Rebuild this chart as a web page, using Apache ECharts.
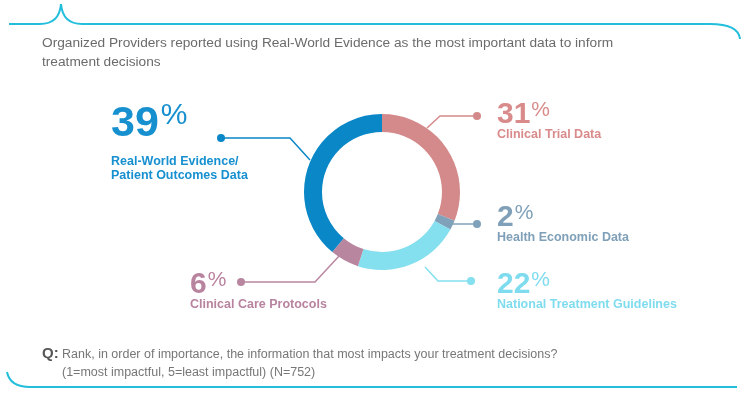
<!DOCTYPE html>
<html>
<head>
<meta charset="utf-8">
<script src="https://cdn.jsdelivr.net/npm/echarts@6/dist/echarts.min.js"></script>
<style>
html, body { margin: 0; padding: 0; background: #fff; }
#chart { width: 747px; height: 397px; }
</style>
</head>
<body>
<div id="chart"></div>
<script>
// data, clockwise from 12 o'clock
var names = ['Clinical Trial Data', 'Health Economic Data', 'National Treatment Guidelines', 'Clinical Care Protocols', 'Real-World Evidence/\nPatient Outcomes Data'];
var values = [31, 2, 22, 6, 39];
var colors = ['#d48a8a', '#7fa2ba', '#84dfee', '#b8869f', '#0a87c7'];
var textColors = ['#d98b8b', '#7fa0b8', '#7fdcee', '#b8839e', '#1790d0'];

// where each label sits, and its leader line (ring -> bend -> dot)
var labelPos = [
  { x: 497, y: 102, line: [[427, 128], [440, 116], [477, 116]] },
  { x: 497, y: 205, line: [[452, 224], [462, 224], [477, 224]] },
  { x: 497, y: 272, line: [[425, 267], [438, 281], [471, 281]] },
  { x: 190, y: 272, line: [[340, 255], [315, 282], [241, 282]] },
  { x: 111, y: 94, line: [[310, 160], [290, 138], [221, 138]] }
];

var chart = echarts.init(document.getElementById('chart'));

var pieData = [];
for (var i = 0; i < values.length; i++) {
  pieData.push({
    name: names[i],
    value: values[i],
    itemStyle: { color: colors[i] },
    label: { color: textColors[i] }
  });
}

var dots = [];
labelPos.forEach(function(p, i) {
  var end = p.line[2];
  dots.push({
    type: 'circle',
    shape: { cx: end[0], cy: end[1], r: 4 },
    style: { fill: colors[i] },
    z: 10
  });
});

var frame = { fill: 'none', stroke: '#22bedc', lineWidth: 2 };
var deco = [
  { type: 'line', shape: { x1: 9, y1: 24, x2: 40, y2: 24 }, style: frame },
  { type: 'bezierCurve', shape: { x1: 40, y1: 24, cpx1: 54, cpy1: 24, cpx2: 60, cpy2: 16, x2: 61, y2: 4 }, style: frame },
  { type: 'bezierCurve', shape: { x1: 61, y1: 4, cpx1: 62, cpy1: 16, cpx2: 68, cpy2: 24, x2: 82, y2: 24 }, style: frame },
  { type: 'line', shape: { x1: 82, y1: 24, x2: 710, y2: 24 }, style: frame },
  { type: 'bezierCurve', shape: { x1: 710, y1: 24, cpx1: 728, cpy1: 24, cpx2: 739, cpy2: 29, x2: 740, y2: 39 }, style: frame },
  { type: 'bezierCurve', shape: { x1: 7, y1: 372, cpx1: 9, cpy1: 382, cpx2: 17, cpy2: 387, x2: 30, y2: 387 }, style: frame },
  { type: 'line', shape: { x1: 30, y1: 387, x2: 737, y2: 387 }, style: frame }
];

var option = {
  animation: false,
  title: [
    {
      text: 'Organized Providers reported using Real-World Evidence as the most important data to inform\ntreatment decisions',
      left: 42, top: 34, padding: 0,
      textStyle: { fontFamily: 'Liberation Sans', fontSize: 13.7, fontWeight: 'normal', color: '#6b6b6b', lineHeight: 19 }
    },
    {
      text: 'Q:',
      left: 42, top: 346, padding: 0,
      textStyle: { fontFamily: 'Liberation Sans', fontSize: 15, fontWeight: 'bold', color: '#555' }
    },
    {
      text: 'Rank, in order of importance, the information that most impacts your treatment decisions?\n(1=most impactful, 5=least impactful) (N=752)',
      left: 62, top: 346, padding: 0,
      textStyle: { fontFamily: 'Liberation Sans', fontSize: 12.5, fontWeight: 'normal', color: '#777', lineHeight: 18 }
    }
  ],
  graphic: deco.concat(dots),
  series: [{
    type: 'pie',
    center: [382, 192],
    radius: [60, 78],
    startAngle: 90,
    clockwise: true,
    avoidLabelOverlap: false,
    silent: true,
    itemStyle: { borderWidth: 0 },
    label: {
      show: true,
      position: 'outside',
      fontFamily: 'Liberation Sans',
      formatter: function(p) {
        var lines = p.name.split('\n');
        var big = p.dataIndex === 4;
        var s = big ? '{numB|' + p.value + '}{pctB|%}' : '{num|' + p.value + '}{pct|%}';
        lines.forEach(function(l) { s += '\n{name|' + l + '}'; });
        return s;
      },
      rich: {
        numB: { fontFamily: 'Liberation Sans', fontSize: 43, fontWeight: 'bold', lineHeight: 61 },
        pctB: { fontFamily: 'Liberation Sans', fontSize: 30, fontWeight: 'normal', height: 44, lineHeight: 44, verticalAlign: 'top', padding: [0, 0, 0, 2] },
        num: { fontFamily: 'Liberation Sans', fontSize: 30, fontWeight: 'bold', lineHeight: 26 },
        pct: { fontFamily: 'Liberation Sans', fontSize: 21, fontWeight: 'normal', height: 16, lineHeight: 16, verticalAlign: 'top', padding: [0, 0, 0, 1] },
        name: { fontFamily: 'Liberation Sans', fontSize: 12.5, fontWeight: 'bold', lineHeight: 14 }
      }
    },
    labelLine: { show: true, smooth: false, lineStyle: { width: 1.5 } },
    labelLayout: function(params) {
      var p = labelPos[params.dataIndex];
      return { x: p.x, y: p.y, align: 'left', verticalAlign: 'top', labelLinePoints: p.line };
    },
    data: pieData
  }]
};

chart.setOption(option);
</script>
</body>
</html>
